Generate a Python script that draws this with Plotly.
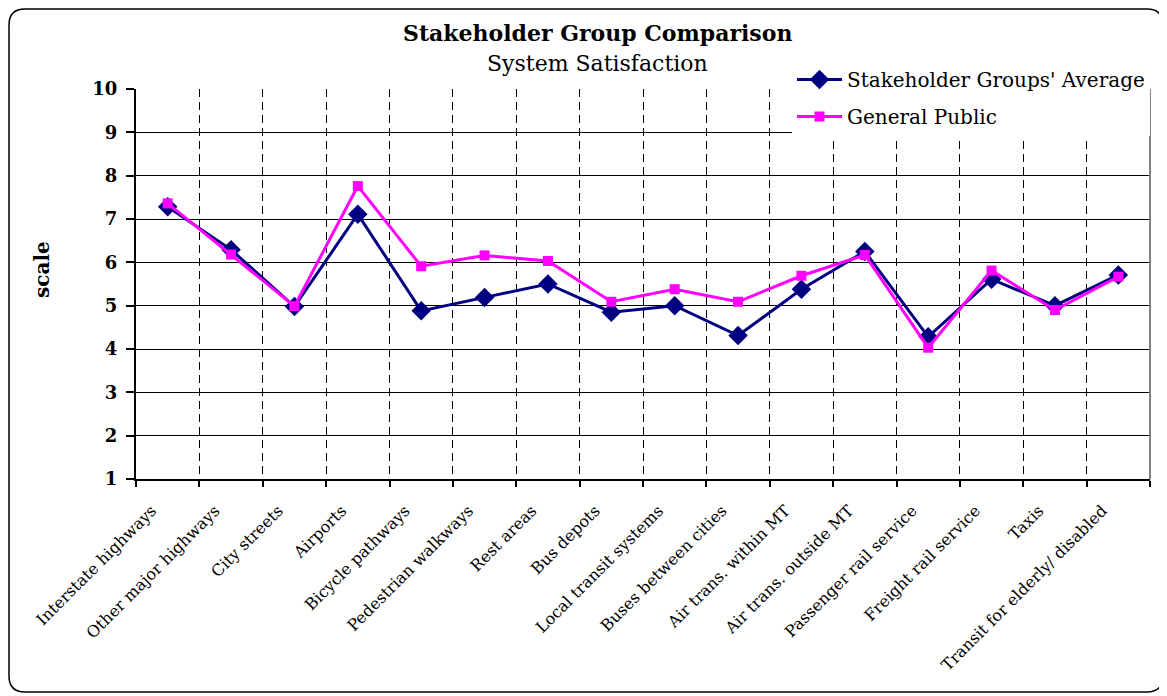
import plotly.graph_objects as go

categories = ["Interstate highways", "Other major highways", "City streets", "Airports",
              "Bicycle pathways", "Pedestrian walkways", "Rest areas", "Bus depots",
              "Local transit systems", "Buses between cities", "Air trans. within MT",
              "Air trans. outside MT", "Passenger rail service", "Freight rail service",
              "Taxis", "Transit for elderly/ disabled"]
stakeholder_avg = [7.28, 6.29, 4.98, 7.11, 4.88, 5.19, 5.50, 4.85,
                   5.00, 4.31, 5.38, 6.25, 4.28, 5.61, 5.00, 5.71]
general_public = [7.36, 6.18, 4.99, 7.76, 5.91, 6.16, 6.03, 5.09,
                  5.38, 5.09, 5.69, 6.17, 4.03, 5.81, 4.90, 5.67]
y_ticks = list(range(1, 11))

FONT = "DejaVu Serif"
# the page adds an 8px body margin, so figure pixels = reference pixels - 8
W, H = 1159, 688
L, R, T, B = 128, 17, 81, 217
pw, ph = W - L - R, H - T - B


def px(x):
    return (x - L) / pw


def py(y):
    return (H - B - y) / ph


fig = go.Figure()
fig.add_trace(go.Scatter(
    x=categories, y=stakeholder_avg, name="Stakeholder Groups' Average",
    mode="lines+markers", legendgroup="a",
    line=dict(color="#000080", width=3),
    marker=dict(symbol="diamond", size=15, color="#000080"),
))
fig.add_trace(go.Scatter(
    x=categories, y=general_public, name="General Public",
    mode="lines+markers", legendgroup="b",
    line=dict(color="#FF00FF", width=3),
    marker=dict(symbol="square", size=10, color="#FF00FF"),
))

# rounded outer border
x0, x1 = px(1), px(1155)
y0, y1 = py(684), py(1)
rx, ry = 16 / pw, 16 / ph
path = (f"M {x0+rx},{y1} L {x1-rx},{y1} Q {x1},{y1} {x1},{y1-ry} "
        f"L {x1},{y0+ry} Q {x1},{y0} {x1-rx},{y0} L {x0+rx},{y0} "
        f"Q {x0},{y0} {x0},{y0+ry} L {x0},{y1-ry} Q {x0},{y1} {x0+rx},{y1} Z")

annotations = [
    dict(text="<b>Stakeholder Group Comparison</b>", x=px(589), y=py(25),
         xref="paper", yref="paper", showarrow=False, xanchor="center", yanchor="middle",
         font=dict(family=FONT, size=22, color="black")),
    dict(text="System Satisfaction", x=px(589), y=py(55),
         xref="paper", yref="paper", showarrow=False, xanchor="center", yanchor="middle",
         font=dict(family=FONT, size=22, color="black")),
    dict(text="<b>scale</b>", x=px(34), y=py(262), textangle=-90,
         xref="paper", yref="paper", showarrow=False, xanchor="center", yanchor="middle",
         font=dict(family=FONT, size=20, color="black")),
]

fig.update_layout(
    width=W, height=H,
    margin=dict(l=L, r=R, t=T, b=B, autoexpand=False),
    paper_bgcolor="white", plot_bgcolor="white",
    font=dict(family=FONT, color="black"),
    xaxis=dict(
        type="category", range=[-0.5, 15.5], automargin=False,
        tickson="boundaries", ticks="outside", ticklen=6, tickcolor="black", tickwidth=1.5,
        showgrid=True, gridcolor="black", griddash="8px,5px", gridwidth=1,
        showline=True, linecolor="black", linewidth=2,
        tickangle=-45, tickfont=dict(family=FONT, size=16, color="black"),
        ticklabelstandoff=14, ticklabelshift=-16,
    ),
    yaxis=dict(
        range=[1, 10], tickvals=y_ticks, ticktext=[f"<b>{v}</b>" for v in y_ticks],
        ticks="outside", ticklen=8, tickcolor="black",
        tickwidth=1.5, automargin=False,
        showgrid=True, gridcolor="black", gridwidth=1,
        showline=True, linecolor="black", linewidth=2, zeroline=False,
        tickfont=dict(family=FONT, size=18, color="black"),
        ticklabelstandoff=5,
    ),
    legend=dict(
        x=px(784), y=py(52), xanchor="left", yanchor="top",
        bgcolor="white", borderwidth=0,
        font=dict(family=FONT, size=20, color="black"),
        traceorder="grouped", tracegroupgap=8, itemwidth=45,
    ),
    annotations=annotations,
    shapes=[
        dict(type="line", x0=1, x1=1, y0=0, y1=1, xref="paper", yref="paper",
             line=dict(color="#808080", width=2)),
        dict(type="path", path=path, xref="paper", yref="paper",
             line=dict(color="black", width=1.5), fillcolor="rgba(0,0,0,0)"),
    ],
)

fig.write_html("out.html")
